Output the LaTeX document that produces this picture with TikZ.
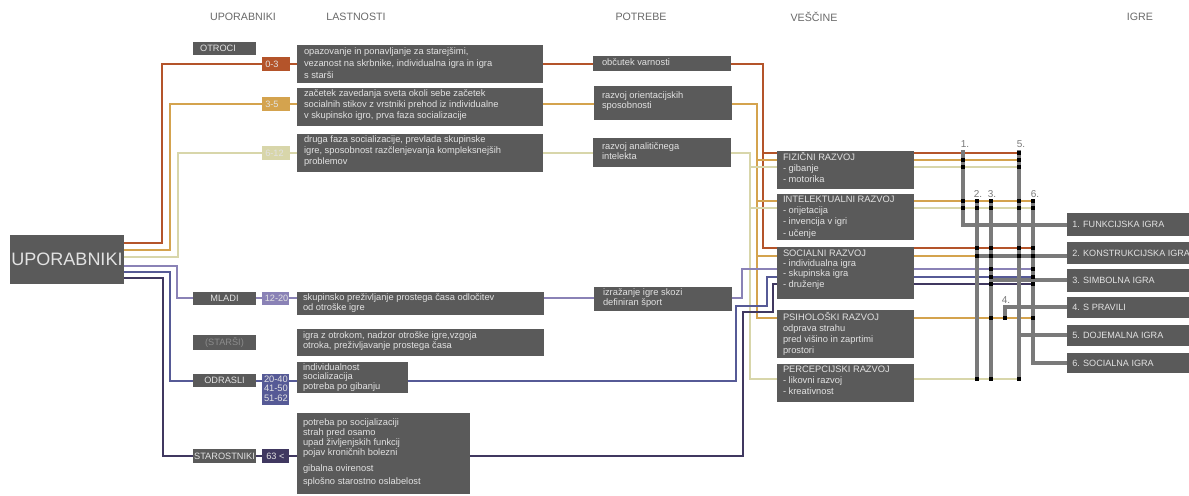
\documentclass[tikz,border=0pt]{standalone}
\usepackage{fontspec}
\setmainfont{Liberation Sans}
\usetikzlibrary{backgrounds}
\definecolor{bxg}{RGB}{90,90,90}
\definecolor{txl}{RGB}{226,226,226}
\definecolor{hdr}{RGB}{105,105,105}
\definecolor{c03}{RGB}{180,84,42}
\definecolor{c35}{RGB}{212,163,78}
\definecolor{c612}{RGB}{216,214,170}
\definecolor{cml}{RGB}{138,130,182}
\definecolor{cod}{RGB}{86,90,150}
\definecolor{cst}{RGB}{64,56,96}
\definecolor{gry}{RGB}{122,122,122}
\definecolor{sta}{RGB}{140,140,140}
\newcommand{\fst}{\rule{0pt}{6.6pt}}
\newcommand{\mybox}[6][bxg]{\node[gbox,fill=#1,minimum width={(#5-#3)*0.75pt},minimum height={(#6-#4)*0.75pt}] (#2) at (#3,#4) {};}
\newcommand{\mytxt}[5][8.6]{\node[btxt,font=\fontsize{7}{#1}\selectfont] (#2t) at ([shift={(#3,#4-0.8)}]#2.north west) {\fst#5};}
\begin{document}
\begin{tikzpicture}[x=0.75pt,y=-0.75pt,
  gbox/.style={rectangle,draw=none,inner sep=0pt,outer sep=0pt,anchor=north west},
  btxt/.style={text=txl,align=left,inner sep=0pt,outer sep=0pt,anchor=north west},
  ctxt/.style={text=txl,inner sep=0pt,font=\fontsize{6.9}{7.5}\selectfont},
  gtxt/.style={text=txl,inner sep=0pt,anchor=west,font=\fontsize{6.8}{7.5}\selectfont},
  hd/.style={text=hdr,inner sep=0pt,font=\fontsize{8}{9}\selectfont},
  ln/.style={line width=2.2pt},
  pl/.style={line width=1.7pt},
  gl/.style={draw=gry,line width=3.4pt},
  lab/.style={text=gry,inner sep=0pt,font=\fontsize{7.5}{8}\selectfont}]
\useasboundingbox (0,0) rectangle (1189,496);
% headers
\node[hd] (h1) at (243,17) {UPORABNIKI};
\node[hd] (h2) at (356,17) {LASTNOSTI};
\node[hd] (h3) at (641,17) {POTREBE};
\node[hd] (h4) at (814,17) {VEŠČINE};
\node[hd] (h5) at (1140,17) {IGRE};
% main box
\mybox{upor}{10}{235}{124}{284}
\node[text=txl,inner sep=0pt,font=\fontsize{13.5}{15}\selectfont] (uport) at (upor.center) {UPORABNIKI};
% user groups
\mybox{otroci}{193}{42}{256}{55}
\node[ctxt] (otrocit) at (218,48.5) {OTROCI};
\mybox[c03]{a03}{262}{57}{290}{71}
\node[ctxt,anchor=west] (a03t) at ([shift={(3,0)}]a03.west) {0-3};
\mybox[c35]{a35}{262}{97}{290}{111}
\node[ctxt,anchor=west] (a35t) at ([shift={(3,0)}]a35.west) {3-5};
\mybox[c612]{a612}{262}{146}{290}{160}
\node[ctxt,anchor=west] (a612t) at ([shift={(3,0)}]a612.west) {6-12};
\mybox{mladi}{193}{292}{256}{305}
\node[ctxt] (mladit) at (mladi.center) {MLADI};
\mybox[cml]{a1220}{262}{292}{289}{305}
\node[ctxt,anchor=west] (a1220t) at ([shift={(2.5,0)}]a1220.west) {12-20};
\mybox{starsi}{193}{335}{256}{350}
\node[ctxt,text=sta] (starsit) at (starsi.center) {(STARŠI)};
\mybox{odrasli}{193}{374}{256}{387}
\node[ctxt] (odraslit) at (odrasli.center) {ODRASLI};
\mybox[cod]{aod}{262}{374}{289}{405}
\mytxt[7.2]{aod}{2}{0}{20-40\\41-50\\51-62}
\mybox{starost}{193}{449}{256}{463}
\node[ctxt] (starostt) at (starost.center) {STAROSTNIKI};
\mybox[cst]{ast}{262}{449}{289}{463}
\node[ctxt,anchor=west] (astt) at ([shift={(4,0)}]ast.west) {63 <};
% lastnosti
\mybox{L1}{297}{45}{543}{83}
\mytxt[9]{L1}{7}{1}{opazovanje in ponavljanje za starejšimi,\\vezanost na skrbnike, individualna igra in igra\\s starši}
\mybox{L2}{297}{88}{543}{126}
\mytxt[8.6]{L2}{7}{0}{začetek zavedanja sveta okoli sebe začetek\\socialnih stikov z vrstniki prehod iz individualne\\v skupinsko igro, prva faza socializacije}
\mybox{L3}{297}{134}{543}{172}
\mytxt[8.3]{L3}{7}{0}{druga faza socializacije, prevlada skupinske\\igre, sposobnost razčlenjevanja kompleksnejših\\problemov}
\mybox{L4}{297}{292}{544}{315}
\mytxt[7.6]{L4}{6}{0}{skupinsko preživljanje prostega časa odločitev\\od otroške igre}
\mybox{L5}{297}{329}{544}{356}
\mytxt[8.2]{L5}{6}{1}{igra z otrokom, nadzor otroške igre,vzgoja\\otroka, preživljavanje prostega časa}
\mybox{L6}{297}{362}{408}{393}
\mytxt[7.2]{L6}{6}{0}{individualnost\\socializacija\\potreba po gibanju}
\mybox{L7}{297}{413}{470}{494}
\mytxt[7.7]{L7}{6}{4}{potreba po socijalizaciji\\strah pred osamo\\upad življenjskih funkcij\\pojav kroničnih bolezni\\[4.3pt]gibalna ovirenost\\[2pt]splošno starostno oslabelost}
% potrebe
\mybox{P1}{593}{56}{731}{71}
\mytxt{P1}{9}{1.5}{občutek varnosti}
\mybox{P2}{594}{86}{732}{120}
\mytxt[8.2]{P2}{8}{4}{razvoj orientacijskih\\sposobnosti}
\mybox{P3}{593}{138}{731}{167}
\mytxt[7.8]{P3}{9}{3}{razvoj analitičnega\\intelekta}
\mybox{P4}{594}{287}{732}{311}
\mytxt[7.6]{P4}{9}{0}{izražanje igre skozi\\definiran šport}
% vescine
\mybox{V1}{777}{151}{914}{189}
\mytxt[8.6]{V1}{6}{1}{FIZIČNI RAZVOJ\\- gibanje\\- motorika}
\mybox{V2}{777}{194}{914}{240}
\mytxt[8.5]{V2}{6}{0}{INTELEKTUALNI RAZVOJ\\- orijetacija\\- invencija v igri\\- učenje}
\mybox{V3}{777}{247}{914}{299}
\mytxt[7.8]{V3}{6}{1}{SOCIALNI RAZVOJ\\- individualna igra\\- skupinska igra\\- druženje}
\mybox{V4}{777}{310}{914}{358}
\mytxt[8.3]{V4}{6}{2}{PSIHOLOŠKI RAZVOJ\\odprava strahu\\pred višino in zaprtimi\\prostori}
\mybox{V5}{777}{364}{914}{402}
\mytxt[8.6]{V5}{6}{0}{PERCEPCIJSKI RAZVOJ\\- likovni razvoj\\- kreativnost}
% igre
\mybox{G1}{1067}{213}{1189}{236}
\node[gtxt] (G1t) at ([shift={(5,0)}]G1.west) {1. FUNKCIJSKA IGRA};
\mybox{G2}{1067}{242}{1189}{264}
\node[gtxt] (G2t) at ([shift={(5,0)}]G2.west) {2. KONSTRUKCIJSKA IGRA};
\mybox{G3}{1067}{269}{1189}{292}
\node[gtxt] (G3t) at ([shift={(5,0)}]G3.west) {3. SIMBOLNA IGRA};
\mybox{G4}{1067}{297}{1189}{318}
\node[gtxt] (G4t) at ([shift={(5,0)}]G4.west) {4. S PRAVILI};
\mybox{G5}{1067}{325}{1189}{346}
\node[gtxt] (G5t) at ([shift={(5,0)}]G5.west) {5. DOJEMALNA IGRA};
\mybox{G6}{1067}{353}{1189}{373}
\node[gtxt] (G6t) at ([shift={(5,0)}]G6.west) {6. SOCIALNA IGRA};
% coloured connectors (behind boxes)
\begin{scope}[on background layer]
\fill[white] (0,0) rectangle (1189,496);
% 0-3
\draw[ln,c03] (upor.east |- 0,243) -- (162,243) -- (162,64) -- (763,64) -- (763,248) -- (V3.west |- 0,248);
\draw[ln,c03] (763,153) -- (V1.west |- 0,153);
\draw[ln,c03] (V1.east |- 0,153) -- (1019,153);
\draw[ln,c03] (V3.east |- 0,248) -- (1033,248);
% 3-5
\draw[ln,c35] (upor.east |- 0,250) -- (170,250) -- (170,104) -- (757,104) -- (757,318) -- (V4.west |- 0,318);
\draw[ln,c35] (757,160) -- (V1.west |- 0,160);
\draw[ln,c35] (757,201) -- (V2.west |- 0,201);
\draw[ln,c35] (757,256) -- (V3.west |- 0,256);
\draw[ln,c35] (V1.east |- 0,160) -- (1019,160);
\draw[ln,c35] (V2.east |- 0,201) -- (1033,201);
\draw[ln,c35] (V3.east |- 0,256) -- (1067,256);
\draw[ln,c35] (V4.east |- 0,318) -- (1033,318);
% 6-12
\draw[ln,c612] (upor.east |- 0,257) -- (178,257) -- (178,153) -- (750,153) -- (750,379) -- (V5.west |- 0,379);
\draw[ln,c612] (750,167) -- (V1.west |- 0,167);
\draw[ln,c612] (750,208) -- (V2.west |- 0,208);
\draw[ln,c612] (V1.east |- 0,167) -- (1019,167);
\draw[ln,c612] (V2.east |- 0,208) -- (1033,208);
\draw[ln,c612] (V5.east |- 0,379) -- (1019,379);
% mladi
\draw[ln,cml] (upor.east |- 0,266) -- (177,266) -- (177,298) -- (742,298) -- (742,269) -- (V3.west |- 0,269);
\draw[pl,cml] (V3.east |- 0,269) -- (1033,269);
% odrasli
\draw[ln,cod] (upor.east |- 0,272) -- (170,272) -- (170,381) -- (736,381) -- (736,306) -- (767,306) -- (767,277) -- (V3.west |- 0,277);
\draw[pl,cod] (V3.east |- 0,277) -- (1033,277);
% starostniki
\draw[ln,cst] (upor.east |- 0,278) -- (163,278) -- (163,456) -- (743,456) -- (743,312) -- (773,312) -- (773,284) -- (V3.west |- 0,284);
\draw[pl,cst] (V3.east |- 0,284) -- (1033,284);
\end{scope}
% grey connectors to games
\draw[gl] (963,150) -- (963,225) -- (G1.west |- 0,225);
\draw[gl] (977,199) -- (977,379);
\draw[gl] (977,256) -- (G2.west |- 0,256);
\draw[gl] (991,199) -- (991,379);
\draw[gl] (991,280) -- (G3.west |- 0,280);
\draw[gl] (1005,318) -- (1005,307) -- (G4.west |- 0,307);
\draw[gl] (1019,150) -- (1019,379);
\draw[gl] (1019,335) -- (G5.west |- 0,335);
\draw[gl] (1033,199) -- (1033,363) -- (G6.west |- 0,363);
\node[lab] (n1) at (965,144) {1.};
\node[lab] (n5) at (1021,144) {5.};
\node[lab] (n2) at (978,194) {2.};
\node[lab] (n3) at (992,194) {3.};
\node[lab] (n6) at (1035,194) {6.};
\node[lab] (n4) at (1006,300) {4.};
\foreach \p in {(963,160),(963,167),(963,201),(963,208),
  (1019,153),(1019,160),(1019,167),(1019,201),(1019,208),(1019,248),(1019,256),(1019,379),
  (977,201),(977,208),(977,248),(977,256),(977,379),
  (991,201),(991,208),(991,248),(991,256),(991,269),(991,277),(991,284),(991,318),(991,379),
  (1005,318),
  (1033,201),(1033,208),(1033,248),(1033,256),(1033,269),(1033,277),(1033,284),(1033,318)}
  \fill[black] \p ++(-1.6,-1.6) rectangle ++(3.2,3.2);
\end{tikzpicture}
\end{document}
